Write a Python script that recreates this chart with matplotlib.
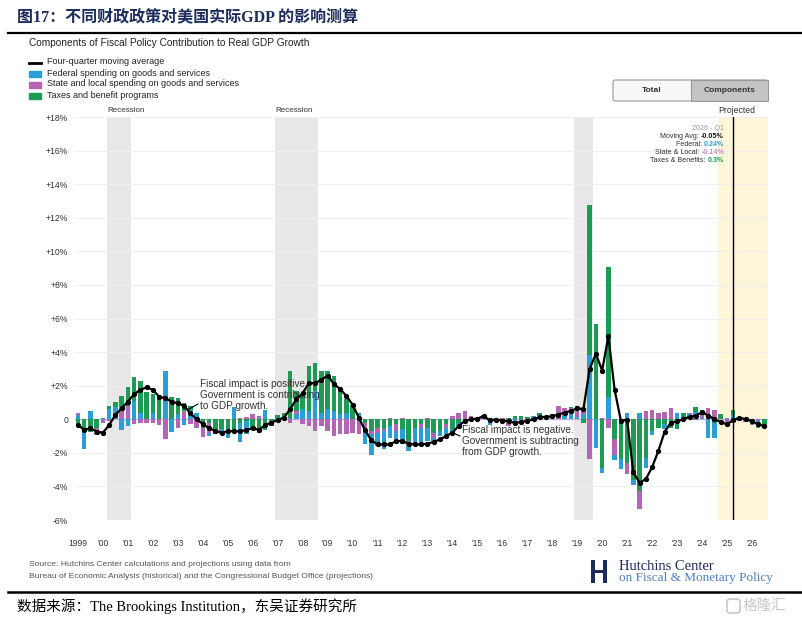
import matplotlib.pyplot as plt
from matplotlib.patches import Rectangle, FancyBboxPatch
from matplotlib.lines import Line2D
import numpy as np

# -------- Data (quarterly, 1999 Q4 .. 2027 Q2, percentage points) --------
federal = [
    0.25, -1.00, 0.50, -0.10, 0.10, 0.60, 0.70, -0.65, -0.40, 1.10,
    0.35, 0.00, 0.35, 0.00, 2.85, -0.75, 0.30, -0.35, 0.55, 0.35,
    0.00, -0.20, 0.00, -0.30, -0.40, 0.75, -1.15, -0.80, 0.00, -0.20,
    0.55, -0.10, 0.10, 0.20, 0.10, 0.30, 0.60, 0.50, 1.70, 0.40,
    0.60, 0.50, 0.30, 0.40, 0.00, 0.30, -0.90, -1.20, -0.80, -1.10,
    -0.70, -0.60, -0.90, -0.30, -1.00, -0.90, -0.80, -0.20, -0.30, -0.40,
    -0.20, -0.30, 0.00, -0.10, 0.00, 0.00, -0.35, 0.05, -0.15, 0.00,
    -0.15, 0.00, -0.05, 0.20, 0.00, 0.10, 0.05, 0.00, 0.20, 0.35,
    0.15, 0.30, 3.83, -1.70, -0.30, 1.35, -0.30, -0.60, 0.36, -0.30,
    0.40, -0.60, -0.25, 0.00, -0.30, 0.00, 0.40, 0.15, 0.30, 0.45,
    0.10, -1.13, -0.93, 0.00, 0.05, 0.24, 0.10, 0.05, 0.00, -0.45,
    0.00,
]
state_local = [
    0.10, 0.00, 0.00, -0.30, -0.25, -0.10, 0.00, 0.70, 0.80, -0.30,
    -0.25, -0.25, -0.20, -0.35, -1.20, 0.00, -0.55, 0.50, -0.30, -0.55,
    -0.50, -0.60, -0.20, 0.00, 0.00, 0.00, 0.10, 0.15, 0.30, 0.20,
    0.00, 0.00, 0.00, 0.00, -0.20, 0.20, -0.30, -0.40, -0.70, -0.40,
    -0.70, -1.00, -0.90, -0.85, -0.80, -0.90, -0.40, -0.20, -0.30, -0.10,
    0.10, -0.40, 0.10, -0.30, 0.00, -0.20, 0.10, -0.30, 0.00, -0.20,
    0.20, 0.40, 0.50, 0.20, 0.10, 0.28, 0.00, 0.00, 0.05, -0.40,
    0.00, -0.10, 0.00, 0.00, 0.00, 0.05, 0.05, 0.80, 0.45, 0.30,
    0.40, 0.30, -2.38, 0.00, 0.05, -0.55, -0.90, 0.00, -0.63, 0.00,
    -1.06, 0.50, 0.55, 0.40, 0.45, 0.65, 0.00, 0.00, 0.05, -0.05,
    0.15, 0.65, 0.55, 0.00, -0.15, -0.14, -0.10, -0.10, -0.05, -0.05,
    -0.05,
]
taxes = [
    -0.40, -0.80, -0.75, -0.55, 0.00, 0.20, 0.35, 0.70, 1.10, 1.40,
    1.90, 1.60, 1.15, 1.45, 0.00, 1.35, 0.95, 0.45, 0.25, 0.00,
    -0.55, -0.20, -0.70, -0.60, -0.70, -0.75, -0.20, -0.10, -0.65, -0.60,
    -0.65, -0.30, 0.15, 0.20, 2.80, 1.20, 0.90, 2.70, 1.65, 2.50,
    2.30, 2.10, 1.60, 0.80, 0.85, 0.10, -0.20, -0.70, -0.50, -0.60,
    -0.40, -0.30, -0.60, -1.30, -0.50, -0.30, -0.50, -0.80, -0.70, -0.30,
    -0.60, -0.20, -0.10, 0.00, -0.05, 0.00, 0.00, -0.05, -0.10, 0.10,
    0.20, 0.20, 0.15, -0.10, 0.35, 0.00, 0.20, 0.00, 0.00, 0.10,
    0.25, -0.20, 8.93, 5.67, -2.90, 7.74, -1.20, -2.38, -2.62, -3.60,
    -4.30, -2.30, -0.70, -0.50, -0.30, -0.55, -0.60, 0.25, 0.00, 0.25,
    0.30, 0.00, -0.20, 0.32, 0.00, 0.30, 0.00, -0.05, -0.30, 0.00,
    -0.40,
]
moving_avg = [
    -0.34, -0.63, -0.54, -0.73, -0.80, -0.34, 0.26, 0.65, 1.05, 1.50,
    1.75, 1.90, 1.75, 1.35, 1.25, 1.05, 0.95, 0.80, 0.36, 0.00,
    -0.28, -0.54, -0.69, -0.79, -0.72, -0.70, -0.72, -0.63, -0.54, -0.63,
    -0.34, -0.20, -0.04, 0.10, 0.60, 1.20, 1.55, 2.15, 2.15, 2.35,
    2.60, 2.10, 1.80, 1.40, 0.87, 0.10, -0.65, -1.25, -1.50, -1.50,
    -1.50, -1.30, -1.30, -1.45, -1.50, -1.50, -1.45, -1.35, -1.20, -1.00,
    -0.80, -0.40, -0.10, 0.00, 0.04, 0.18, -0.06, -0.02, -0.08, -0.12,
    -0.22, -0.16, -0.10, 0.00, 0.12, 0.14, 0.18, 0.28, 0.40, 0.50,
    0.65, 0.60, 3.00, 3.90, 2.90, 4.96, 1.75, -0.08, -0.04, -3.17,
    -3.77, -3.57, -2.86, -1.90, -0.76, -0.20, -0.12, 0.00, 0.15, 0.22,
    0.42, 0.22, 0.00, -0.16, -0.30, -0.05, 0.10, 0.00, -0.12, -0.30,
    -0.42,
]
year_labels = ["1999"] + ["'%02d" % (y % 100) for y in range(2000, 2027)]
recessions = [(4.65, 8.5, "Recession"), (31.6, 38.5, "Recession"), (79.5, 82.5, "")]
projected_start = 102.6
tooltip_q = 105

BLUE = "#2a9fd6"
PURPLE = "#b466b4"
GREEN = "#1f9a55"
NAVY = "#1c2d5c"

W, H = 802, 623
fig = plt.figure(figsize=(W / 100, H / 100), dpi=100)


def fx(px):
    return px / W


def fy(py):
    return 1 - py / H


LATIN = "Liberation Sans"
CJK = ["Liberation Serif", "Noto Sans CJK SC", "DejaVu Sans"]

# -------- Header --------
fig.text(fx(17), fy(17), "图17：不同财政政策对美国实际GDP 的影响测算", family=CJK,
         weight="bold", size=11.5, color=NAVY, va="center", ha="left")
fig.add_artist(Line2D([fx(8), 1], [fy(33), fy(33)], color="black", lw=1.6))
fig.text(fx(29), fy(43), "Components of Fiscal Policy Contribution to Real GDP Growth",
         family=LATIN, size=7.3, color="#222222", va="center")

# legend
leg = [("Four-quarter moving average", None), ("Federal spending on goods and services", BLUE),
       ("State and local spending on goods and services", PURPLE), ("Taxes and benefit programs", GREEN)]
for k, (lab, col) in enumerate(leg):
    yy = 62 + 11 * k
    if col is None:
        fig.add_artist(Line2D([fx(29), fx(41)], [fy(yy + 1), fy(yy + 1)], color="black", lw=2))
    else:
        fig.add_artist(Rectangle((fx(29), fy(yy + 3.5)), fx(12), 5.5 / H, color=col,
                                 transform=fig.transFigure))
    fig.text(fx(47), fy(yy), lab, family=LATIN, size=6.5, color="#222222", va="center")

# toggle buttons
fig.add_artist(FancyBboxPatch((fx(613), fy(101)), fx(155), 21 / H, boxstyle="round,pad=0,rounding_size=0.003",
                              transform=fig.transFigure, fc="#f8f8f8", ec="#9a9a9a", lw=0.8))
fig.add_artist(Rectangle((fx(691), fy(101)), fx(77), 21 / H, transform=fig.transFigure,
                         fc="#c4c4c4", ec="#9a9a9a", lw=0.8))
fig.text(fx(652), fy(90.5), "Total", family=LATIN, size=6, weight="bold", color="#333333",
         ha="center", va="center")
fig.text(fx(730), fy(90.5), "Components", family=LATIN, size=6, weight="bold", color="#333333",
         ha="center", va="center")

# -------- Chart --------
ax = fig.add_axes([fx(75), fy(520), fx(768) - fx(75), fy(117) - fy(520)])
n = len(federal)
idx = np.arange(n)

for x0, x1, lab in recessions:
    ax.axvspan(x0, x1, color="#e8e8e8", lw=0, zorder=0)
    if lab:
        ax.text(x0, 1.015, lab, transform=ax.get_xaxis_transform(), family=LATIN, size=5.8,
                color="#333333", ha="left", va="center")
ax.axvspan(projected_start, n + 1, color="#fff5d8", lw=0, zorder=0)
ax.text(projected_start, 1.015, "Projected", transform=ax.get_xaxis_transform(), family=LATIN,
        size=6.2, color="#333333", ha="left", va="center")

ax.set_yticks(range(-6, 20, 2))
ax.set_yticklabels([("+%d%%" % v) if v > 0 else ("0" if v == 0 else "%d%%" % v) for v in range(-6, 20, 2)],
                   family=LATIN, size=6.2, color="#333333")
ax.grid(axis="y", color="#efefef", lw=0.8, zorder=0)
ax.set_axisbelow(True)

# stacked bars: positive stack fed -> state -> taxes, negative stack taxes -> state -> fed
pos = np.zeros(n)
neg = np.zeros(n)
for vals, col in [(federal, BLUE), (state_local, PURPLE), (taxes, GREEN)]:
    v = np.array(vals)
    p = np.where(v > 0, v, 0)
    ax.bar(idx, p, 0.72, bottom=pos, color=col, lw=0, zorder=2)
    pos += p
for vals, col in [(taxes, GREEN), (state_local, PURPLE), (federal, BLUE)]:
    v = np.array(vals)
    q = np.where(v < 0, v, 0)
    ax.bar(idx, q, 0.72, bottom=neg, color=col, lw=0, zorder=2)
    neg += q

ax.axhline(0, color="#bfb0d2", lw=0.9, zorder=1.5)
ax.plot(idx, moving_avg, color="black", lw=1.6, marker="o", ms=2.8, zorder=4)
ax.axvline(tooltip_q, color="black", lw=1, zorder=5)

ax.set_xticks(range(0, 109, 4))
ax.set_xticklabels(year_labels, family=LATIN, size=6.2, color="#333333")
ax.tick_params(axis="both", length=0)
ax.tick_params(axis="x", pad=14)
ax.tick_params(axis="y", pad=5)
for s in ax.spines.values():
    s.set_visible(False)
ax.set_xlim(-0.48, 110.58)
ax.set_ylim(-6, 18)

# annotations
ax.text(19.5, 1.45, "Fiscal impact is positive.\nGovernment is contributing\nto GDP growth.",
        family=LATIN, size=7.2, color="#333333", va="center", ha="left", linespacing=1.12)
ax.plot([17.5, 19.2], [0.55, 0.9], color="black", lw=0.8)
ax.text(61.5, -1.3, "Fiscal impact is negative.\nGovernment is subtracting\nfrom GDP growth.",
        family=LATIN, size=7.2, color="#333333", va="center", ha="left", linespacing=1.12)
ax.plot([59.8, 61.2], [-0.75, -1.0], color="black", lw=0.8)

# tooltip
r = fig.canvas.get_renderer()


def rich_right(xpx, ypx, parts, size=5.1):
    xr = fx(xpx)
    for txt, col, wt in reversed(parts):
        t = fig.text(xr, fy(ypx), txt, family=LATIN, size=size, color=col, weight=wt,
                     ha="right", va="center")
        xr = t.get_window_extent(r).x0 / W


rich_right(724, 128, [("2026 - Q1", "#999999", "normal")])
rich_right(724, 136, [("Moving Avg: ", "#333333", "normal"), ("-0.05%", "#111111", "bold")])
rich_right(724, 144, [("Federal: ", "#333333", "normal"), ("0.24%", BLUE, "bold")])
rich_right(724, 152, [("State & Local: ", "#333333", "normal"), ("-0.14%", PURPLE, "normal")])
rich_right(724, 160, [("Taxes & Benefits: ", "#333333", "normal"), ("0.3%", GREEN, "bold")])

# -------- Footer --------
fig.text(fx(29), fy(564), "Source: Hutchins Center calculations and projections using data from",
         family=LATIN, size=6.1, color="#555555", va="center")
fig.text(fx(29), fy(577), "Bureau of Economic Analysis (historical) and the Congressional Budget Office (projections)",
         family=LATIN, size=6.1, color="#555555", va="center")

# Hutchins logo
for x0 in (591, 603):
    fig.add_artist(Rectangle((fx(x0), fy(583)), fx(4), 23 / H, transform=fig.transFigure,
                             fc=NAVY, lw=0))
fig.add_artist(Rectangle((fx(595), fy(573)), fx(8), 3 / H, transform=fig.transFigure, fc=NAVY, lw=0))
for x0 in (596.5, 598.5, 600.5):
    fig.add_artist(Rectangle((fx(x0), fy(583)), fx(0.8), 9 / H, transform=fig.transFigure,
                             fc="#5a6a8a", lw=0))
fig.text(fx(619), fy(566), "Hutchins Center", family="Liberation Serif", size=10.5, color=NAVY, va="center")
fig.text(fx(619), fy(578), "on Fiscal & Monetary Policy", family="Liberation Serif", size=9.5,
         color="#4d7fbf", va="center")

fig.add_artist(Line2D([fx(8), 1], [fy(592), fy(592)], color="black", lw=1.8))
fig.text(fx(17), fy(606), "数据来源：The Brookings Institution，东吴证券研究所", family=CJK,
         size=10.5, color="black", va="center")

# watermark
fig.add_artist(FancyBboxPatch((fx(727), fy(613)), fx(13), 14 / H, boxstyle="round,pad=0,rounding_size=0.004",
                              transform=fig.transFigure, fc="none", ec="#c8c8c8", lw=1.2))
fig.text(fx(743), fy(606), "格隆汇", family=CJK, size=10.5, color="#c8c8c8", va="center")

fig.savefig("out.png", dpi=100)
